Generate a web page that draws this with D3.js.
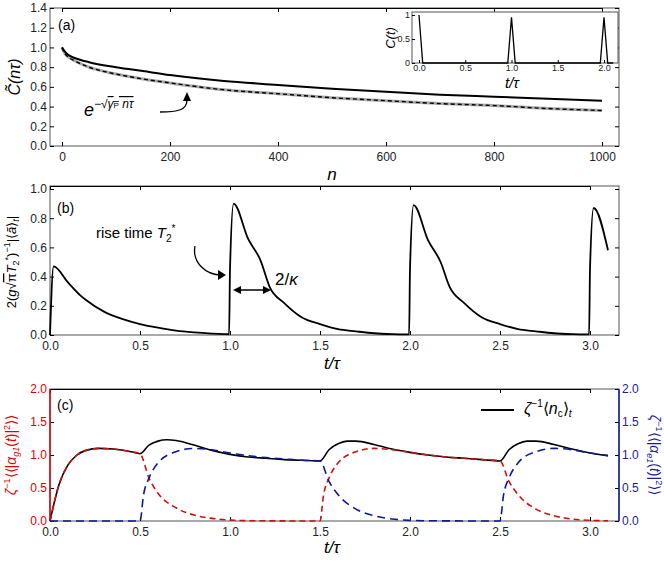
<!DOCTYPE html><html><head><meta charset="utf-8">
<script src="https://cdn.jsdelivr.net/npm/d3@7"></script>
<style>body{margin:0;background:#fff}text{font-family:'Liberation Sans',Arial,sans-serif}</style></head><body>
<script>
// Panel (a)
const aN=[0,5,10,25,50,100,150,200,300,400,500,600,700,800,900,1000];
const aSolid=[1.0,0.96,0.93,0.89,0.85,0.80,0.76,0.72,0.66,0.62,0.58,0.55,0.52,0.50,0.48,0.46];
const aDash=[1.0,0.94,0.91,0.86,0.80,0.73,0.68,0.64,0.57,0.53,0.49,0.46,0.43,0.41,0.38,0.36];
const insetT=[0,0.02,0.04,0.96,1.0,1.04,1.96,2.0,2.04,2.1];
const insetC=[1,0.5,0,0,0.95,0,0,0.95,0,0];
// Panel (b)
const bT=[0,0.02,0.1,0.17,0.2,0.3,0.4,0.5,0.6,0.7,0.8,0.9,0.97,0.995,1.0,1.02,1.1,1.17,1.22,1.3,1.4,1.5,1.6,1.7,1.8,1.9,1.97,1.995,2.0,2.02,2.1,2.17,2.22,2.3,2.4,2.5,2.6,2.7,2.8,2.9,2.97,2.995,3.0,3.02,3.1];
const bV=[0,0.47,0.36,0.27,0.24,0.16,0.11,0.075,0.05,0.03,0.018,0.01,0.006,0.005,0.45,0.90,0.66,0.51,0.33,0.22,0.12,0.075,0.04,0.025,0.012,0.006,0.004,0.004,0.45,0.89,0.65,0.50,0.33,0.22,0.12,0.075,0.04,0.025,0.012,0.006,0.004,0.004,0.45,0.87,0.58];
// Panel (c)
const cT=[0,0.05,0.1,0.15,0.2,0.27,0.35,0.45,0.5,0.55,0.6,0.65,0.7,0.8,0.9,1.0,1.1,1.2,1.3,1.4,1.5,1.55,1.6,1.65,1.7,1.8,1.9,2.0,2.1,2.2,2.3,2.4,2.5,2.55,2.6,2.65,2.7,2.8,2.9,3.0,3.1];
const cTotal=[0,0.55,0.85,1.0,1.07,1.1,1.09,1.05,1.02,1.15,1.21,1.23,1.22,1.15,1.07,1.01,0.97,0.95,0.93,0.92,0.91,1.08,1.17,1.21,1.21,1.16,1.09,1.04,1.0,0.97,0.95,0.93,0.91,1.08,1.17,1.21,1.21,1.16,1.09,1.03,0.99];
const redT=[0,0.05,0.1,0.15,0.2,0.27,0.35,0.45,0.5,0.55,0.6,0.7,0.8,0.9,1.0,1.1,1.5,1.52,1.55,1.6,1.7,1.8,1.9,2.0,2.1,2.2,2.3,2.4,2.5,2.55,2.6,2.7,2.8,2.9,3.0,3.1];
const redV=[0,0.55,0.85,1.0,1.07,1.1,1.09,1.05,1.02,0.65,0.42,0.2,0.09,0.04,0.015,0.005,0,0.4,0.65,0.88,1.05,1.1,1.08,1.04,1.0,0.97,0.95,0.93,0.91,0.6,0.4,0.18,0.08,0.03,0.01,0.003];
const blueT=[0,0.5,0.52,0.55,0.6,0.7,0.8,0.9,1.0,1.1,1.2,1.3,1.4,1.5,1.55,1.6,1.7,1.8,1.9,2.0,2.1,2.5,2.52,2.55,2.6,2.7,2.8,2.9,3.0,3.1];
const blueV=[0,0,0.4,0.65,0.88,1.05,1.1,1.08,1.03,0.99,0.96,0.94,0.92,0.91,0.6,0.4,0.18,0.08,0.03,0.01,0.004,0,0.4,0.65,0.88,1.05,1.1,1.08,1.03,0.99];
const aTicksX=[0,200,400,600,800,1000], aTicksY=[0,0.2,0.4,0.6,0.8,1.0,1.2,1.4];
const tTicks=[0,0.5,1.0,1.5,2.0,2.5,3.0];

const svg=d3.select("body").append("svg").attr("width",664).attr("height",564);
const L=50,R=619;
function frame(y0,y1){svg.append("rect").attr("x",L).attr("y",y0).attr("width",R-L).attr("height",y1-y0).attr("fill","none").attr("stroke","#555").attr("stroke-width",1);}
function axes(x,y,y0,y1,xt,yt,xfmt,yfmt,ycol){
  const gx=svg.append("g").attr("transform",`translate(0,${y1})`).call(d3.axisBottom(x).tickValues(xt).tickFormat(xfmt).tickSize(-4).tickPadding(6));
  svg.append("g").attr("transform",`translate(0,${y0})`).call(d3.axisTop(x).tickValues(xt).tickFormat("").tickSize(-4));
  const gy=svg.append("g").attr("transform",`translate(${L},0)`).call(d3.axisLeft(y).tickValues(yt).tickFormat(yfmt).tickSize(-4).tickPadding(3));
  [gx,gy].forEach(g=>{g.select(".domain").remove();g.selectAll("text").attr("font-size",12).attr("fill","#222");});
  if(ycol)gy.selectAll("text").attr("fill",ycol);
}
const f1=d3.format(".1f");
// ---- (a)
let x=d3.scaleLinear().domain([0,1000]).range([62,602]);
let y=d3.scaleLinear().domain([0,1.4]).range([146,8]);
frame(8,146);
axes(x,y,8,146,aTicksX,aTicksY,d3.format("d"),f1);
svg.append("g").attr("transform",`translate(${R},0)`).call(d3.axisRight(y).tickValues(aTicksY).tickFormat("").tickSize(-4)).select(".domain").remove();
let ln=d3.line().x((d,i)=>x(aN[i])).y(d=>y(d)).curve(d3.curveMonotoneX);
svg.append("path").attr("d",ln(aDash)).attr("fill","none").attr("stroke","#aaa").attr("stroke-width",3);
svg.append("path").attr("d",ln(aDash)).attr("fill","none").attr("stroke","#000").attr("stroke-width",1.4).attr("stroke-dasharray","4,3");
svg.append("path").attr("d",ln(aSolid)).attr("fill","none").attr("stroke","#000").attr("stroke-width",2);
svg.append("text").attr("x",58).attr("y",30).attr("font-family","Liberation Serif").attr("font-size",14).text("(a)");
svg.append("text").attr("x",84).attr("y",116).attr("font-family","Liberation Serif").attr("font-size",18).attr("font-style","italic").html('e<tspan dy="-8" font-size="12">−√</tspan><tspan font-size="12" text-decoration="overline">γ<tspan font-size="8" font-style="normal">P</tspan> nτ</tspan>');
svg.append("path").attr("d","M160,112 C178,112 187,110 187,100").attr("fill","none").attr("stroke","#000").attr("stroke-width",1.3);
svg.append("path").attr("d","M183,101 L187,92 L191,101 Z").attr("fill","#000");
svg.append("text").attr("transform","translate(20,77) rotate(-90)").attr("text-anchor","middle").attr("font-family","Liberation Serif").attr("font-size",16).attr("font-style","italic").text("C̃(nτ)");
svg.append("text").attr("x",332).attr("y",180).attr("text-anchor","middle").attr("font-family","Liberation Serif").attr("font-size",17).attr("font-style","italic").text("n");
// inset
let xi=d3.scaleLinear().domain([0,2]).range([419,604]);
let yi=d3.scaleLinear().domain([0,1]).range([63,15]);
svg.append("rect").attr("x",412).attr("y",12).attr("width",206).attr("height",51).attr("fill","#fff").attr("stroke","#555");
const gix=svg.append("g").attr("transform","translate(0,63)").call(d3.axisBottom(xi).tickValues([0,0.5,1,1.5,2]).tickFormat(f1).tickSize(-3).tickPadding(2));
const giy=svg.append("g").attr("transform","translate(412,0)").call(d3.axisLeft(yi).tickValues([0,0.5,1]).tickFormat(d3.format("")).tickSize(-3).tickPadding(2));
[gix,giy].forEach(g=>{g.select(".domain").remove();g.selectAll("text").attr("font-size",9).attr("fill","#222");});
svg.append("path").attr("d",d3.line().x((d,i)=>xi(insetT[i])).y(d=>yi(d))(insetC)).attr("fill","none").attr("stroke","#000").attr("stroke-width",1.3);
svg.append("text").attr("x",512).attr("y",88).attr("text-anchor","middle").attr("font-family","Liberation Serif").attr("font-size",15).attr("font-style","italic").text("t/τ");
svg.append("text").attr("transform","translate(395,38) rotate(-90)").attr("text-anchor","middle").attr("font-family","Liberation Serif").attr("font-size",13).attr("font-style","italic").text("C(t)");
// ---- (b)
x=d3.scaleLinear().domain([0,3]).range([50,590]);
y=d3.scaleLinear().domain([0,1]).range([335,189]);
frame(186,335);
axes(x,y,186,335,tTicks,[0,0.2,0.4,0.6,0.8,1.0],f1,f1);
svg.append("g").attr("transform",`translate(${R},0)`).call(d3.axisRight(y).tickValues([0,0.2,0.4,0.6,0.8,1]).tickFormat("").tickSize(-4)).select(".domain").remove();
svg.append("path").attr("d",d3.line().x((d,i)=>x(bT[i])).y(d=>y(d)).curve(d3.curveMonotoneX)(bV)).attr("fill","none").attr("stroke","#000").attr("stroke-width",1.8);
svg.append("text").attr("x",57).attr("y",213).attr("font-family","Liberation Serif").attr("font-size",14).text("(b)");
svg.append("text").attr("x",96).attr("y",238).attr("font-family","Liberation Serif").attr("font-size",15).html('rise time <tspan font-style="italic">T</tspan><tspan font-size="10" dy="4">2</tspan><tspan font-size="10" dy="-10">*</tspan>');
svg.append("path").attr("d","M195,246 C192,262 205,275 222,275").attr("fill","none").attr("stroke","#000").attr("stroke-width",1.3);
svg.append("path").attr("d","M218,270 L226,275 L218,280 Z").attr("fill","#000");
svg.append("line").attr("x1",238).attr("x2",266).attr("y1",290).attr("y2",290).attr("stroke","#000").attr("stroke-width",1.5);
svg.append("path").attr("d","M233,290 L241,286 L241,294 Z M271,290 L263,286 L263,294 Z").attr("fill","#000");
svg.append("text").attr("x",275).attr("y",285).attr("font-family","Liberation Serif").attr("font-size",17).html('2/<tspan font-style="italic">κ</tspan>');
svg.append("text").attr("transform","translate(16,262) rotate(-90)").attr("text-anchor","middle").attr("font-family","Liberation Serif").attr("font-size",13).html('2(<tspan font-style="italic">g</tspan>√<tspan text-decoration="overline">π</tspan><tspan font-style="italic">T</tspan><tspan font-size="9" dy="3">2</tspan><tspan font-size="9" dy="-8">*</tspan><tspan dy="5">)</tspan><tspan font-size="9" dy="-6">−1</tspan><tspan dy="6">|⟨</tspan><tspan font-style="italic">ã</tspan>⟩<tspan font-size="9" dy="3" font-style="italic">t</tspan><tspan dy="-3">|</tspan>');
svg.append("text").attr("x",332).attr("y",369).attr("text-anchor","middle").attr("font-family","Liberation Serif").attr("font-size",17).attr("font-style","italic").text("t/τ");
// ---- (c)
y=d3.scaleLinear().domain([0,2]).range([521,389]);
frame(389,521);
axes(x,y,389,521,tTicks,[0,0.5,1,1.5,2],f1,f1,"#e00000");
const gr=svg.append("g").attr("transform",`translate(${R},0)`).call(d3.axisRight(y).tickValues([0,0.5,1,1.5,2]).tickFormat(f1).tickSize(-4).tickPadding(3));
gr.select(".domain").remove();gr.selectAll("text").attr("font-size",12).attr("fill","#1a1aa0");
svg.append("line").attr("x1",L).attr("x2",L).attr("y1",389).attr("y2",521).attr("stroke","#e00000").attr("stroke-width",1.5);
svg.append("line").attr("x1",R).attr("x2",R).attr("y1",389).attr("y2",521).attr("stroke","#1a1aa0").attr("stroke-width",1.5);
const mk=(T)=>d3.line().x((d,i)=>x(T[i])).y(d=>y(d)).curve(d3.curveMonotoneX);
svg.append("path").attr("d",mk(cT)(cTotal)).attr("fill","none").attr("stroke","#000").attr("stroke-width",1.6);
svg.append("path").attr("d",mk(redT)(redV)).attr("fill","none").attr("stroke","#d01010").attr("stroke-width",1.6).attr("stroke-dasharray","6,4");
svg.append("path").attr("d",mk(blueT)(blueV)).attr("fill","none").attr("stroke","#101890").attr("stroke-width",1.6).attr("stroke-dasharray","8,5");
svg.append("text").attr("x",57).attr("y",410).attr("font-family","Liberation Serif").attr("font-size",14).text("(c)");
svg.append("line").attr("x1",481).attr("x2",514).attr("y1",410).attr("y2",410).attr("stroke","#000").attr("stroke-width",2);
svg.append("text").attr("x",524).attr("y",414).attr("font-family","Liberation Serif").attr("font-size",16).html('<tspan font-style="italic">ζ</tspan><tspan font-size="10" dy="-7">−1</tspan><tspan dy="7">⟨</tspan><tspan font-style="italic">n</tspan><tspan font-size="10" dy="3">c</tspan><tspan dy="-3">⟩</tspan><tspan font-size="10" dy="3" font-style="italic">t</tspan>');
svg.append("text").attr("transform","translate(16,455) rotate(-90)").attr("text-anchor","middle").attr("fill","#e00000").attr("font-family","Liberation Serif").attr("font-size",14).html('<tspan font-style="italic">ζ</tspan><tspan font-size="9" dy="-6">−1</tspan><tspan dy="6">⟨⟨|</tspan><tspan font-style="italic">α</tspan><tspan font-size="9" dy="3" font-style="italic">g1</tspan><tspan dy="-3">(</tspan><tspan font-style="italic">t</tspan>)|<tspan font-size="9" dy="-6">2</tspan><tspan dy="6">⟩⟩</tspan>');
svg.append("text").attr("transform","translate(650,455) rotate(90)").attr("text-anchor","middle").attr("fill","#1a1aa0").attr("font-family","Liberation Serif").attr("font-size",14).html('<tspan font-style="italic">ζ</tspan><tspan font-size="9" dy="-6">−1</tspan><tspan dy="6">⟨⟨|</tspan><tspan font-style="italic">α</tspan><tspan font-size="9" dy="3" font-style="italic">e1</tspan><tspan dy="-3">(</tspan><tspan font-style="italic">t</tspan>)|<tspan font-size="9" dy="-6">2</tspan><tspan dy="6">⟩⟩</tspan>');
svg.append("text").attr("x",332).attr("y",553).attr("text-anchor","middle").attr("font-family","Liberation Serif").attr("font-size",17).attr("font-style","italic").text("t/τ");
</script></body></html>
